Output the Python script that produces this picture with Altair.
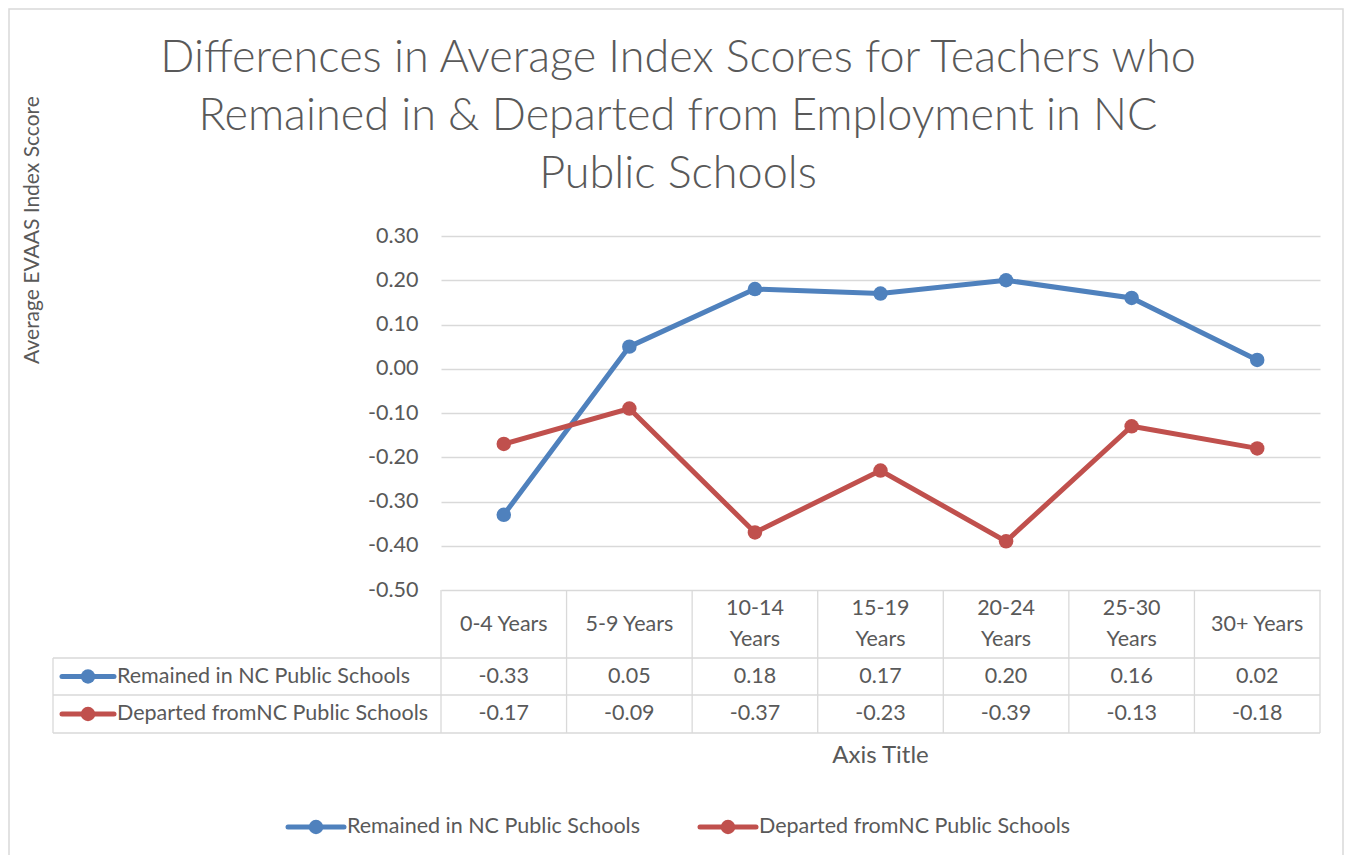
import altair as alt
import pandas as pd

categories = ["0-4 Years", "5-9 Years", "10-14 Years", "15-19 Years", "20-24 Years", "25-30 Years", "30+ Years"]
header_labels = ["0-4 Years", "5-9 Years", "10-14\nYears", "15-19\nYears", "20-24\nYears", "25-30\nYears", "30+ Years"]
series_names = ["Remained in NC Public Schools", "Departed fromNC Public Schools"]
remained = [-0.33, 0.05, 0.18, 0.17, 0.20, 0.16, 0.02]
departed = [-0.17, -0.09, -0.37, -0.23, -0.39, -0.13, -0.18]
colors = ["#4F81BD", "#C0504D"]
y_ticks = [0.30, 0.20, 0.10, 0.00, -0.10, -0.20, -0.30, -0.40, -0.50]
title_lines = ["Differences in Average Index Scores for Teachers who",
               "Remained in & Departed from Employment in NC",
               "Public Schools"]
y_title = "Average EVAAS Index Sccore"
x_title = "Axis Title"

W, H = 879, 354
PAD_L, PAD_T, PAD_R, PAD_B = 433, 228, 26, 265
FONT = "Lato"
TXT = "#595959"
GRID = "#D9D9D9"
FS = 21.5
LW = 5
MS = 210

rows = []
for s, vals in zip(series_names, [remained, departed]):
    for c, h, v in zip(categories, header_labels, vals):
        rows.append({"cat": c, "header": h, "series": s, "value": v, "label": f"{v:.2f}"})
df = pd.DataFrame(rows)
cats_df = pd.DataFrame({"cat": categories, "header": header_labels})
cats_df["nlines"] = cats_df["header"].str.count("\n") + 1
series_df = pd.DataFrame({"series": series_names, "color": colors})

xscale = alt.Scale(type="band", domain=categories, paddingInner=0, paddingOuter=0)
yscale = alt.Scale(domain=[-0.5, 0.3], nice=False, zero=False)
cscale = alt.Scale(domain=series_names, range=colors)

X = alt.X("cat:N", scale=xscale, axis=None)
Y = alt.Y("value:Q", scale=yscale,
          axis=alt.Axis(values=y_ticks, labelExpr="replace(format(datum.value, '.2f'), '\u2212', '-')",
                        grid=True, gridColor=GRID, gridWidth=1.3,
                        domain=False, ticks=False, labelPadding=23, labelFontSize=FS,
                        labelColor=TXT, labelFont=FONT, title=None))

base = alt.Chart(df)

one = pd.DataFrame({"a": [0]})
border = alt.Chart(one).mark_rect(
    filled=False, stroke=GRID, strokeWidth=1.5
).encode(x=alt.value(-432), x2=alt.value(W + 23), y=alt.value(-227), y2=alt.value(H + PAD_B + 20))

lines = base.mark_line(strokeWidth=LW).encode(
    x=X, y=Y, color=alt.Color("series:N", scale=cscale, legend=None), detail="series:N")
points = base.mark_circle(size=MS, opacity=1).encode(
    x=X, y=Y, color=alt.Color("series:N", scale=cscale, legend=None))

# data table header
header1 = alt.Chart(cats_df).transform_filter("datum.nlines == 1").mark_text(
    font=FONT, fontSize=FS, color=TXT, baseline="middle"
).encode(x=X, y=alt.value(389), text="header:N")
header2 = alt.Chart(cats_df).transform_filter("datum.nlines == 2").mark_text(
    font=FONT, fontSize=FS, color=TXT, lineBreak="\n", lineHeight=31, baseline="middle"
).encode(x=X, y=alt.value(373), text="header:N")

vlines = alt.Chart(cats_df).mark_rule(color=GRID, strokeWidth=1.3).encode(
    x=alt.X("cat:N", scale=xscale, axis=None, bandPosition=0), y=alt.value(H), y2=alt.value(497))
vlast = alt.Chart(one).mark_rule(color=GRID, strokeWidth=1.3).encode(
    x=alt.value(W), y=alt.value(H), y2=alt.value(497))
vleft = alt.Chart(one).mark_rule(color=GRID, strokeWidth=1.3).encode(
    x=alt.value(-388), y=alt.value(422), y2=alt.value(497))
hlines = [alt.Chart(one).mark_rule(color=GRID, strokeWidth=1.3).encode(
    x=alt.value(-388), x2=alt.value(W), y=alt.value(yy)) for yy in [422, 459, 497]]

layers = [border, *hlines, vlines, vlast, vleft, header1, header2, lines, points]

row_y = [440.5, 478]
for i, s in enumerate(series_names):
    sub = df[df.series == s]
    sd = series_df[series_df.series == s]
    layers.append(alt.Chart(sub).mark_text(font=FONT, fontSize=FS, color=TXT, baseline="middle").encode(
        x=X, y=alt.value(row_y[i]), text="label:N"))
    # table legend key
    layers.append(alt.Chart(sd).mark_rule(strokeWidth=LW, strokeCap="round").encode(
        x=alt.value(-379), x2=alt.value(-327), y=alt.value(row_y[i]),
        color=alt.Color("series:N", scale=cscale, legend=None)))
    layers.append(alt.Chart(sd).mark_circle(size=MS, opacity=1).encode(
        x=alt.value(-353), y=alt.value(row_y[i]),
        color=alt.Color("series:N", scale=cscale, legend=None)))
    layers.append(alt.Chart(sd).mark_text(font=FONT, fontSize=FS, color=TXT, align="left", baseline="middle").encode(
        x=alt.value(-324), y=alt.value(row_y[i]), text="series:N"))

# bottom legend
leg_x = [-153, 259]
for i, s in enumerate(series_names):
    sd = series_df[series_df.series == s]
    x0 = leg_x[i]
    layers.append(alt.Chart(sd).mark_rule(strokeWidth=LW, strokeCap="round").encode(
        x=alt.value(x0), x2=alt.value(x0 + 56), y=alt.value(591),
        color=alt.Color("series:N", scale=cscale, legend=None)))
    layers.append(alt.Chart(sd).mark_circle(size=MS, opacity=1).encode(
        x=alt.value(x0 + 28), y=alt.value(591),
        color=alt.Color("series:N", scale=cscale, legend=None)))
    layers.append(alt.Chart(sd).mark_text(font=FONT, fontSize=FS, color=TXT, align="left", baseline="middle").encode(
        x=alt.value(x0 + 59), y=alt.value(591), text="series:N"))

# titles
t_df = pd.DataFrame({"t": title_lines, "i": [0, 1, 2]})
for i, t in enumerate(title_lines):
    layers.append(alt.Chart(t_df[t_df.i == i]).mark_text(
        font=FONT, fontSize=45, fontWeight=300, color=TXT, align="center", baseline="middle"
    ).encode(x=alt.value(237), y=alt.value(-178 + 58 * i), text="t:N"))

layers.append(alt.Chart(pd.DataFrame({"t": [x_title]})).mark_text(
    font=FONT, fontSize=24, color=TXT, align="center", baseline="middle"
).encode(x=alt.value(W / 2), y=alt.value(520), text="t:N"))
layers.append(alt.Chart(pd.DataFrame({"t": [y_title]})).mark_text(
    font=FONT, fontSize=21, color=TXT, align="center", baseline="middle", angle=270
).encode(x=alt.value(-408), y=alt.value(-6), text="t:N"))

chart = alt.layer(*layers).properties(
    width=W, height=H,
    padding={"left": PAD_L, "top": PAD_T, "right": PAD_R, "bottom": PAD_B},
    autosize=alt.AutoSizeParams(type="none"),
    background="white",
).configure_view(strokeWidth=0)

chart.save("out.html", embed_options={"renderer": "svg", "actions": False})
